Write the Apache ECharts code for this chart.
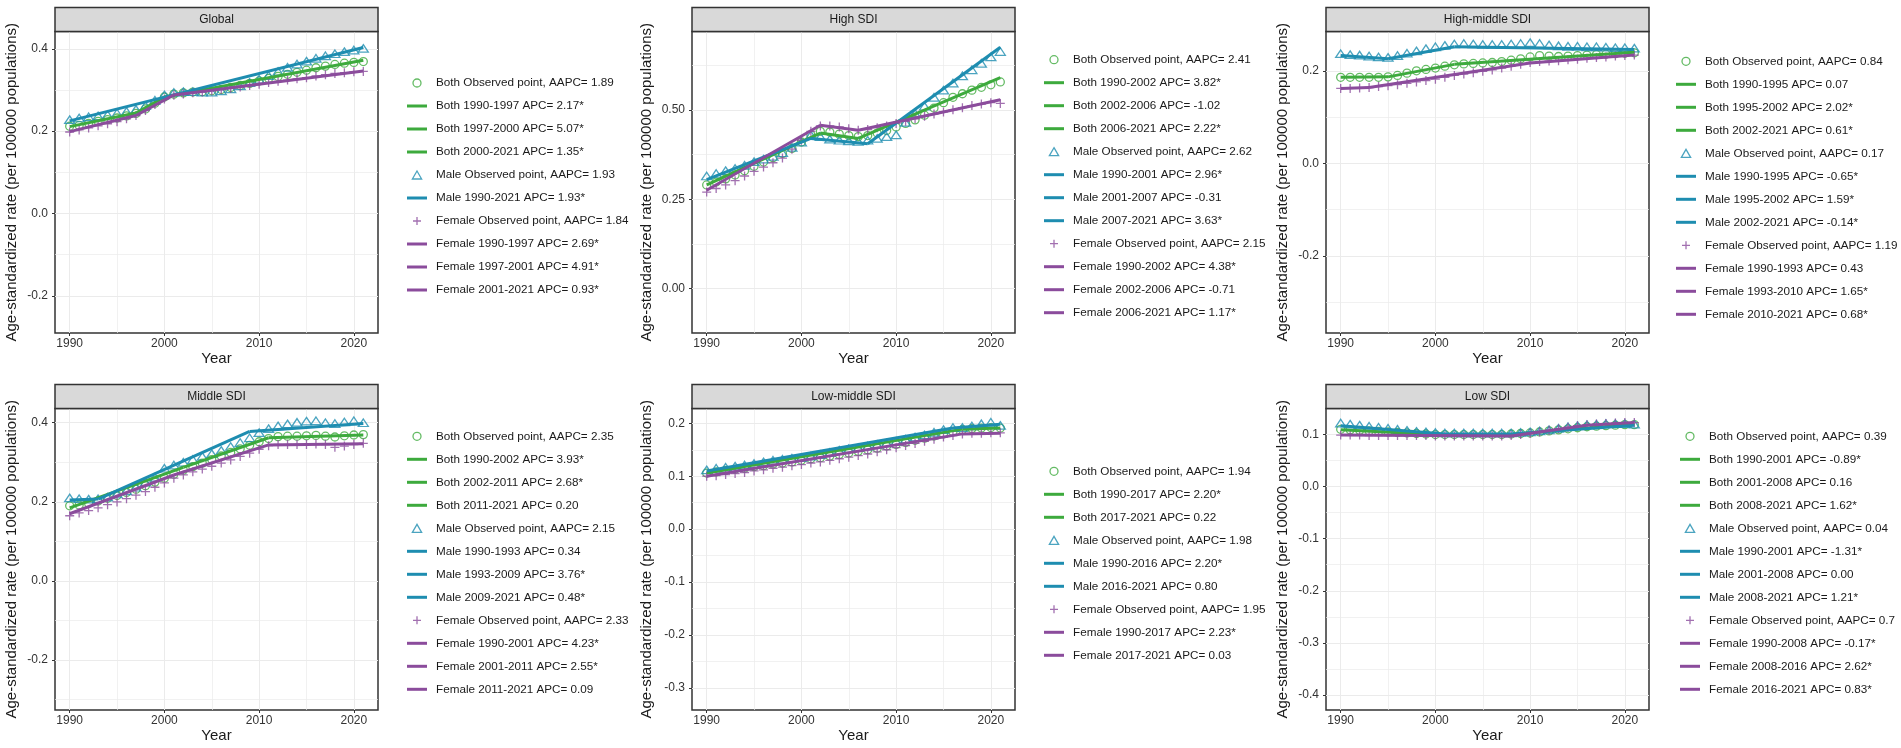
<!DOCTYPE html>
<html>
<head>
<meta charset="utf-8">
<script src="https://cdn.jsdelivr.net/npm/echarts@6/dist/echarts.min.js"></script>
<style>
  html, body { margin: 0; padding: 0; background: #fff; }
  #main { width: 1901px; height: 748px; }
</style>
</head>
<body>
<div id="main"></div>
<script>
// years on the x axis
const years = [1990,1991,1992,1993,1994,1995,1996,1997,1998,1999,2000,2001,2002,2003,2004,2005,
  2006,2007,2008,2009,2010,2011,2012,2013,2014,2015,2016,2017,2018,2019,2020,2021];
const xTicks = [1990, 2000, 2010, 2020];
const xMinor = [1995, 2005, 2015];

// ---- Global
const globalBoth = [0.212,0.214,0.219,0.224,0.228,0.232,0.237,0.243,0.254,0.268,0.283,0.290,0.293,0.295,0.296,0.298,0.301,0.306,0.311,0.316,0.322,0.328,0.333,0.338,0.343,0.348,0.354,0.358,0.362,0.365,0.367,0.369];
const globalMale = [0.228,0.232,0.235,0.237,0.240,0.244,0.248,0.253,0.262,0.275,0.288,0.294,0.296,0.296,0.295,0.295,0.298,0.303,0.310,0.318,0.326,0.335,0.345,0.355,0.363,0.370,0.377,0.383,0.388,0.393,0.397,0.401];
const globalFemale = [0.198,0.203,0.208,0.213,0.218,0.223,0.230,0.238,0.250,0.265,0.278,0.287,0.290,0.293,0.295,0.298,0.301,0.304,0.307,0.311,0.314,0.318,0.321,0.324,0.327,0.330,0.334,0.337,0.340,0.342,0.344,0.345];
const globalBothSeg = [[1990,0.211],[1997,0.244],[2000,0.283],[2021,0.372]];
const globalMaleSeg = [[1990,0.225],[2021,0.403]];
const globalFemaleSeg = [[1990,0.199],[1997,0.238],[2001,0.288],[2021,0.346]];
const globalBothNames = ['Both Observed point, AAPC= 1.89','Both 1990-1997 APC= 2.17*','Both 1997-2000 APC= 5.07*','Both 2000-2021 APC= 1.35*'];
const globalMaleNames = ['Male Observed point, AAPC= 1.93','Male 1990-2021 APC= 1.93*'];
const globalFemaleNames = ['Female Observed point, AAPC= 1.84','Female 1990-1997 APC= 2.69*','Female 1997-2001 APC= 4.91*','Female 2001-2021 APC= 0.93*'];
const globalYTicks = [-0.2, 0, 0.2, 0.4];
const globalYMinor = [-0.1, 0.1, 0.3];

// ---- High SDI
const highBoth = [0.290,0.298,0.307,0.318,0.330,0.342,0.354,0.366,0.378,0.392,0.410,0.430,0.440,0.438,0.432,0.428,0.425,0.428,0.435,0.442,0.452,0.462,0.472,0.485,0.505,0.520,0.535,0.545,0.555,0.563,0.570,0.578];
const highMale = [0.315,0.322,0.330,0.336,0.345,0.355,0.362,0.370,0.380,0.395,0.410,0.430,0.425,0.418,0.415,0.413,0.412,0.415,0.420,0.425,0.430,0.465,0.490,0.510,0.535,0.555,0.575,0.595,0.612,0.630,0.648,0.663];
const highFemale = [0.270,0.280,0.290,0.302,0.315,0.328,0.340,0.352,0.365,0.390,0.415,0.440,0.455,0.455,0.452,0.447,0.443,0.445,0.450,0.455,0.462,0.468,0.475,0.482,0.488,0.494,0.500,0.506,0.512,0.516,0.520,0.518];
const highBothSeg = [[1990,0.290],[2002,0.435],[2006,0.420],[2021,0.590]];
const highMaleSeg = [[1990,0.305],[2001,0.420],[2007,0.405],[2021,0.675]];
const highFemaleSeg = [[1990,0.275],[2002,0.457],[2006,0.443],[2021,0.528]];
const highBothNames = ['Both Observed point, AAPC= 2.41','Both 1990-2002 APC= 3.82*','Both 2002-2006 APC= -1.02','Both 2006-2021 APC= 2.22*'];
const highMaleNames = ['Male Observed point, AAPC= 2.62','Male 1990-2001 APC= 2.96*','Male 2001-2007 APC= -0.31','Male 2007-2021 APC= 3.63*'];
const highFemaleNames = ['Female Observed point, AAPC= 2.15','Female 1990-2002 APC= 4.38*','Female 2002-2006 APC= -0.71','Female 2006-2021 APC= 1.17*'];
const highYTicks = [0, 0.25, 0.5];
const highYMinor = [0.125, 0.375, 0.625];

// ---- High-middle SDI
const hmBoth = [0.186,0.186,0.186,0.186,0.186,0.187,0.190,0.195,0.200,0.203,0.206,0.210,0.213,0.215,0.216,0.217,0.218,0.220,0.223,0.226,0.230,0.233,0.232,0.231,0.232,0.233,0.234,0.235,0.236,0.237,0.238,0.239];
const hmMale = [0.237,0.235,0.234,0.232,0.230,0.229,0.233,0.238,0.243,0.248,0.252,0.255,0.258,0.259,0.258,0.257,0.257,0.257,0.258,0.259,0.261,0.259,0.256,0.254,0.253,0.253,0.252,0.252,0.251,0.250,0.250,0.249];
const hmFemale = [0.162,0.162,0.163,0.164,0.166,0.168,0.170,0.173,0.176,0.179,0.182,0.186,0.190,0.193,0.196,0.199,0.202,0.206,0.210,0.214,0.218,0.220,0.221,0.222,0.224,0.225,0.227,0.229,0.230,0.232,0.233,0.234];
const hmBothSeg = [[1990,0.186],[1995,0.187],[2002,0.214],[2021,0.240]];
const hmMaleSeg = [[1990,0.233],[1995,0.226],[2002,0.252],[2021,0.246]];
const hmFemaleSeg = [[1990,0.162],[1993,0.164],[2010,0.217],[2021,0.234]];
const hmBothNames = ['Both Observed point, AAPC= 0.84','Both 1990-1995 APC= 0.07','Both 1995-2002 APC= 2.02*','Both 2002-2021 APC= 0.61*'];
const hmMaleNames = ['Male Observed point, AAPC= 0.17','Male 1990-1995 APC= -0.65*','Male 1995-2002 APC= 1.59*','Male 2002-2021 APC= -0.14*'];
const hmFemaleNames = ['Female Observed point, AAPC= 1.19','Female 1990-1993 APC= 0.43','Female 1993-2010 APC= 1.65*','Female 2010-2021 APC= 0.68*'];
const hmYTicks = [-0.2, 0, 0.2];
const hmYMinor = [-0.3, -0.1, 0.1];

// ---- Middle SDI
const midBoth = [0.190,0.192,0.196,0.202,0.209,0.216,0.224,0.232,0.241,0.250,0.260,0.270,0.280,0.289,0.298,0.307,0.316,0.325,0.334,0.343,0.352,0.360,0.365,0.366,0.366,0.367,0.368,0.366,0.364,0.367,0.369,0.370];
const midMale = [0.210,0.208,0.207,0.208,0.212,0.220,0.228,0.237,0.250,0.262,0.285,0.293,0.300,0.307,0.315,0.322,0.330,0.340,0.350,0.362,0.375,0.385,0.392,0.397,0.401,0.404,0.405,0.400,0.398,0.402,0.405,0.400];
const midFemale = [0.165,0.172,0.178,0.185,0.193,0.200,0.208,0.217,0.226,0.237,0.248,0.260,0.268,0.276,0.283,0.290,0.298,0.306,0.315,0.323,0.333,0.342,0.345,0.345,0.345,0.345,0.346,0.345,0.338,0.341,0.345,0.348];
const midBothSeg = [[1990,0.185],[2002,0.287],[2011,0.362],[2021,0.369]];
const midMaleSeg = [[1990,0.205],[1993,0.207],[2009,0.378],[2021,0.398]];
const midFemaleSeg = [[1990,0.170],[2001,0.268],[2011,0.344],[2021,0.347]];
const midBothNames = ['Both Observed point, AAPC= 2.35','Both 1990-2002 APC= 3.93*','Both 2002-2011 APC= 2.68*','Both 2011-2021 APC= 0.20'];
const midMaleNames = ['Male Observed point, AAPC= 2.15','Male 1990-1993 APC= 0.34','Male 1993-2009 APC= 3.76*','Male 2009-2021 APC= 0.48*'];
const midFemaleNames = ['Female Observed point, AAPC= 2.33','Female 1990-2001 APC= 4.23*','Female 2001-2011 APC= 2.55*','Female 2011-2021 APC= 0.09'];
const midYTicks = [-0.2, 0, 0.2, 0.4];
const midYMinor = [-0.3, -0.1, 0.1, 0.3];

// ---- Low-middle SDI
const lmBoth = [0.106,0.108,0.111,0.113,0.115,0.118,0.120,0.123,0.125,0.127,0.130,0.133,0.135,0.138,0.141,0.144,0.147,0.150,0.153,0.157,0.160,0.164,0.168,0.172,0.176,0.180,0.184,0.188,0.190,0.191,0.192,0.191];
const lmMale = [0.112,0.115,0.117,0.119,0.121,0.124,0.127,0.130,0.132,0.134,0.135,0.138,0.141,0.145,0.149,0.152,0.154,0.157,0.160,0.163,0.166,0.170,0.174,0.178,0.183,0.188,0.192,0.192,0.195,0.199,0.202,0.196];
const lmFemale = [0.100,0.101,0.103,0.105,0.107,0.110,0.112,0.115,0.117,0.120,0.122,0.125,0.127,0.130,0.133,0.136,0.139,0.142,0.146,0.150,0.154,0.158,0.162,0.166,0.170,0.174,0.177,0.180,0.181,0.181,0.182,0.182];
const lmBothSeg = [[1990,0.106],[2017,0.189],[2021,0.191]];
const lmMaleSeg = [[1990,0.110],[2016,0.191],[2021,0.198]];
const lmFemaleSeg = [[1990,0.100],[2017,0.180],[2021,0.181]];
const lmBothNames = ['Both Observed point, AAPC= 1.94','Both 1990-2017 APC= 2.20*','Both 2017-2021 APC= 0.22'];
const lmMaleNames = ['Male Observed point, AAPC= 1.98','Male 1990-2016 APC= 2.20*','Male 2016-2021 APC= 0.80'];
const lmFemaleNames = ['Female Observed point, AAPC= 1.95','Female 1990-2017 APC= 2.23*','Female 2017-2021 APC= 0.03'];
const lmYTicks = [-0.3, -0.2, -0.1, 0, 0.1, 0.2];
const lmYMinor = [-0.25, -0.15, -0.05, 0.05, 0.15];

// ---- Low SDI
const lowBoth = [0.110,0.109,0.108,0.107,0.106,0.105,0.104,0.103,0.102,0.101,0.100,0.100,0.100,0.100,0.100,0.100,0.100,0.100,0.101,0.102,0.103,0.105,0.107,0.109,0.111,0.113,0.115,0.116,0.117,0.118,0.119,0.119];
const lowMale = [0.122,0.120,0.118,0.116,0.114,0.112,0.110,0.108,0.106,0.105,0.104,0.103,0.103,0.103,0.103,0.103,0.103,0.103,0.103,0.104,0.105,0.107,0.109,0.112,0.115,0.117,0.119,0.120,0.121,0.121,0.121,0.120];
const lowFemale = [0.099,0.099,0.099,0.098,0.098,0.098,0.098,0.098,0.098,0.098,0.097,0.097,0.097,0.097,0.097,0.097,0.097,0.097,0.098,0.100,0.102,0.105,0.108,0.111,0.114,0.117,0.119,0.120,0.121,0.122,0.123,0.123];
const lowBothSeg = [[1990,0.109],[2001,0.099],[2008,0.100],[2021,0.120]];
const lowMaleSeg = [[1990,0.117],[2001,0.101],[2008,0.101],[2021,0.118]];
const lowFemaleSeg = [[1990,0.099],[2008,0.097],[2016,0.118],[2021,0.123]];
const lowBothNames = ['Both Observed point, AAPC= 0.39','Both 1990-2001 APC= -0.89*','Both 2001-2008 APC= 0.16','Both 2008-2021 APC= 1.62*'];
const lowMaleNames = ['Male Observed point, AAPC= 0.04','Male 1990-2001 APC= -1.31*','Male 2001-2008 APC= 0.00','Male 2008-2021 APC= 1.21*'];
const lowFemaleNames = ['Female Observed point, AAPC= 0.7','Female 1990-2008 APC= -0.17*','Female 2008-2016 APC= 2.62*','Female 2016-2021 APC= 0.83*'];
const lowYTicks = [-0.4, -0.3, -0.2, -0.1, 0, 0.1];
const lowYMinor = [-0.35, -0.25, -0.15, -0.05, 0.05];

// panels: data refs + layout (pixels)
const panels = [
  { title: 'Global', both: globalBoth, male: globalMale, female: globalFemale,
    segs: [globalBothSeg, globalMaleSeg, globalFemaleSeg], names: [globalBothNames, globalMaleNames, globalFemaleNames],
    ticks: globalYTicks, minor: globalYMinor, dec: 1,
    left: 55, top: 31.5, yMin: -0.29, yMax: 0.442, nameGap: 36, legLeft: 402, legTop: 72 },
  { title: 'High SDI', both: highBoth, male: highMale, female: highFemale,
    segs: [highBothSeg, highMaleSeg, highFemaleSeg], names: [highBothNames, highMaleNames, highFemaleNames],
    ticks: highYTicks, minor: highYMinor, dec: 2,
    left: 692, top: 31.5, yMin: -0.124, yMax: 0.719, nameGap: 38, legLeft: 1039, legTop: 48.7 },
  { title: 'High-middle SDI', both: hmBoth, male: hmMale, female: hmFemale,
    segs: [hmBothSeg, hmMaleSeg, hmFemaleSeg], names: [hmBothNames, hmMaleNames, hmFemaleNames],
    ticks: hmYTicks, minor: hmYMinor, dec: 1,
    left: 1326, top: 31.5, yMin: -0.3665, yMax: 0.285, nameGap: 35.5, legLeft: 1671, legTop: 50.3 },
  { title: 'Middle SDI', both: midBoth, male: midMale, female: midFemale,
    segs: [midBothSeg, midMaleSeg, midFemaleSeg], names: [midBothNames, midMaleNames, midFemaleNames],
    ticks: midYTicks, minor: midYMinor, dec: 1,
    left: 55, top: 408.5, yMin: -0.326, yMax: 0.436, nameGap: 36, legLeft: 402, legTop: 425.3 },
  { title: 'Low-middle SDI', both: lmBoth, male: lmMale, female: lmFemale,
    segs: [lmBothSeg, lmMaleSeg, lmFemaleSeg], names: [lmBothNames, lmMaleNames, lmFemaleNames],
    ticks: lmYTicks, minor: lmYMinor, dec: 1,
    left: 692, top: 408.5, yMin: -0.342, yMax: 0.228, nameGap: 38, legLeft: 1039, legTop: 460.3 },
  { title: 'Low SDI', both: lowBoth, male: lowMale, female: lowFemale,
    segs: [lowBothSeg, lowMaleSeg, lowFemaleSeg], names: [lowBothNames, lowMaleNames, lowFemaleNames],
    ticks: lowYTicks, minor: lowYMinor, dec: 1,
    left: 1326, top: 408.5, yMin: -0.429, yMax: 0.15, nameGap: 35.5, legLeft: 1675, legTop: 425.3 }
];

const FONT = 'Arial, "Liberation Sans", sans-serif';
const PW = 323, PH = 301.5, STRIP = 24;
const colors = ['#3DAA3D', '#1E8DB0', '#8B4C9C'];
const symbols = ['circle', 'path://M5,0L10,8.66L0,8.66Z', 'path://M0,5H10M5,0V10'];
const symSizes = [8, [10, 8.7], 9];
const xMin = 1988.45, xMax = 2022.55;

const grids = [], xAxes = [], yAxes = [], series = [], legends = [], graphics = [];

panels.forEach((p, i) => {
  grids.push({ left: p.left, top: p.top, width: PW, height: PH, show: true,
    borderColor: '#333', borderWidth: 1.5, backgroundColor: '#fff', containLabel: false, outerBoundsMode: 'none' });

  // major x axis
  xAxes.push({ type: 'value', gridIndex: i, min: xMin, max: xMax, position: 'bottom',
    axisLine: { show: false, onZero: false },
    axisTick: { show: true, length: 3, lineStyle: { color: '#333' }, customValues: xTicks },
    axisLabel: { customValues: xTicks, formatter: v => String(v), fontSize: 12, color: '#333', margin: 5, fontFamily: FONT },
    splitLine: { show: true, lineStyle: { color: '#EBEBEB', width: 1 } },
    name: 'Year', nameLocation: 'middle', nameGap: 18,
    nameTextStyle: { fontSize: 15, color: '#1A1A1A', fontFamily: FONT } });
  // minor x grid
  xAxes.push({ type: 'value', gridIndex: i, min: xMin, max: xMax, position: 'top',
    axisLine: { show: false, onZero: false }, axisLabel: { show: false },
    axisTick: { show: false, customValues: xMinor },
    splitLine: { show: true, lineStyle: { color: '#EBEBEB', width: 0.7 } } });

  yAxes.push({ type: 'value', gridIndex: i, min: p.yMin, max: p.yMax, position: 'left',
    axisLine: { show: false, onZero: false },
    axisTick: { show: true, length: 3, lineStyle: { color: '#333' }, customValues: p.ticks },
    axisLabel: { customValues: p.ticks, formatter: v => v.toFixed(p.dec), fontSize: 12, color: '#333', margin: 7, fontFamily: FONT },
    splitLine: { show: true, lineStyle: { color: '#EBEBEB', width: 1 } },
    name: 'Age-standardized rate (per 100000 populations)', nameLocation: 'middle', nameGap: p.nameGap,
    nameTextStyle: { fontSize: 15, color: '#1A1A1A', fontFamily: FONT } });
  yAxes.push({ type: 'value', gridIndex: i, min: p.yMin, max: p.yMax, position: 'right',
    axisLine: { show: false, onZero: false }, axisLabel: { show: false },
    axisTick: { show: false, customValues: p.minor },
    splitLine: { show: true, lineStyle: { color: '#EBEBEB', width: 0.7 } } });

  const obs = [p.both, p.male, p.female];
  const legendData = [];
  obs.forEach((vals, s) => {
    const names = p.names[s];
    series.push({ type: 'scatter', name: names[0], xAxisIndex: 2 * i, yAxisIndex: 2 * i,
      data: years.map((y, k) => [y, vals[k]]),
      symbol: symbols[s], symbolSize: symSizes[s], symbolKeepAspect: true,
      itemStyle: { color: 'transparent', borderColor: colors[s], borderWidth: 1.3 },
      z: 2, silent: true, animation: false });
    legendData.push({ name: names[0], icon: symbols[s] });
    const seg = p.segs[s];
    for (let j = 0; j < seg.length - 1; j++) {
      series.push({ type: 'line', name: names[j + 1], xAxisIndex: 2 * i, yAxisIndex: 2 * i,
        data: [seg[j], seg[j + 1]], symbol: 'none', showSymbol: false,
        lineStyle: { color: colors[s], width: 3 }, itemStyle: { color: colors[s] },
        z: 3, silent: true, animation: false });
      legendData.push({ name: names[j + 1], icon: 'path://M0,0H20V3H0Z' });
    }
  });

  legends.push({ orient: 'vertical', left: p.legLeft, top: p.legTop,
    itemWidth: 20, itemHeight: 8, itemGap: 11, selectedMode: false,
    data: legendData,
    textStyle: { fontSize: 11.7, color: '#1A1A1A', fontFamily: FONT, padding: [0, 0, 0, 4] },
    itemStyle: { borderWidth: 1.3 } });

  // facet strip
  graphics.push({ type: 'rect', silent: true, z: 10,
    shape: { x: p.left, y: p.top - STRIP, width: PW, height: STRIP },
    style: { fill: '#D9D9D9', stroke: '#333', lineWidth: 1.5 } });
  graphics.push({ type: 'text', silent: true, z: 11,
    x: p.left + PW / 2, y: p.top - STRIP / 2,
    style: { text: p.title, align: 'center', verticalAlign: 'middle', fontSize: 12, fill: '#1A1A1A', fontFamily: FONT } });
});

const chart = echarts.init(document.getElementById('main'), null, { renderer: 'canvas' });
chart.setOption({
  animation: false,
  backgroundColor: '#fff',
  textStyle: { fontFamily: FONT },
  grid: grids,
  xAxis: xAxes,
  yAxis: yAxes,
  legend: legends,
  series: series,
  graphic: graphics
});
</script>
</body>
</html>
